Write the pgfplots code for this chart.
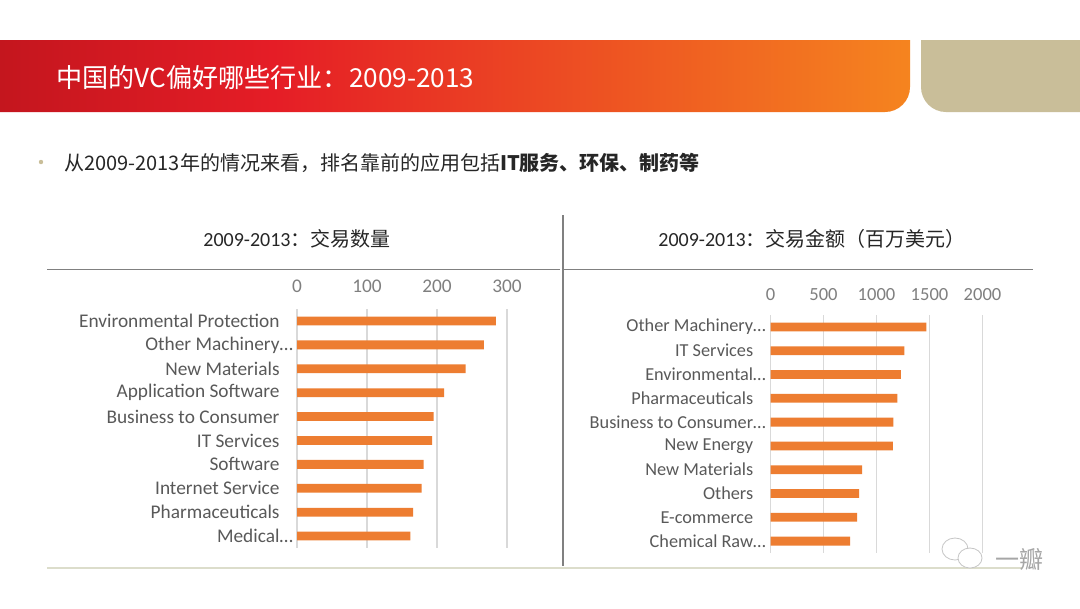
\documentclass[border=0pt]{standalone}
\usepackage{fontspec}
\setmainfont{Carlito}
\newfontfamily\cjk{Noto Sans CJK SC}
\usepackage{pgfplots}
\pgfplotsset{compat=1.18}
\definecolor{barorange}{HTML}{ED7D31}
\definecolor{gridgray}{HTML}{D9D9D9}
\definecolor{labgray}{HTML}{595959}
\definecolor{numgray}{HTML}{7F7F7F}
\definecolor{hdrA}{HTML}{C4161E}
\definecolor{hdrB}{HTML}{E51D26}
\definecolor{hdrC}{HTML}{F5841F}
\definecolor{tan}{HTML}{C9BE99}
\definecolor{lineg}{HTML}{808080}
\definecolor{botline}{HTML}{DCDDCB}
\pgfdeclarehorizontalshading{hdr}{100bp}{color(0bp)=(hdrA); color(25bp)=(hdrA); color(40bp)=(hdrB); color(75bp)=(hdrC); color(100bp)=(hdrC)}

\pgfplotstableread{
y v
0 284
1 267
2 241
3 210
4 195
5 193
6 181
7 178
8 166
9 162
}\countdata
\pgfplotstableread{
y v
0 1470
1 1262
2 1230
3 1196
4 1158
5 1155
6 865
7 836
8 818
9 752
}\amountdata

\begin{document}
\begin{tikzpicture}
\begin{scope}[x=0.75pt,y=-0.75pt]
\fill[white] (0,0) rectangle (1080,608);
% header band
\shade[shading=hdr] (0,40) -- (910,40) -- (910,87) arc[start angle=0,end angle=90,radius=25] -- (0,112) -- cycle;
\fill[tan] (1080,40) -- (921,40) -- (921,87) arc[start angle=180,end angle=90,radius=25] -- (1080,112) -- cycle;
\node[anchor=west, text=white, inner sep=0pt, font=\cjk\fontsize{19.6}{19.6}\selectfont] at (56,78) {中国的VC偏好哪些行业：2009-2013};
% bullet
\fill[tan] (41,162) circle[radius=2.2];
\node[anchor=west, inner sep=0pt, text=black!85, font=\cjk\fontsize{15}{15}\selectfont] at (64,163) {从2009-2013年的情况来看，排名靠前的应用包括{\bfseries IT服务、环保、制药等}};
% chart titles
\node[text=black!85, font=\fontsize{15}{15}\selectfont] at (297,239) {2009-2013{\cjk：交易数量}};
\node[text=black!85, font=\fontsize{15}{15}\selectfont] at (812,239) {2009-2013{\cjk：交易金额（百万美元）}};
% frame lines
\draw[lineg, line width=1.1pt] (47,269.5) -- (560,269.5);
\draw[lineg, line width=1.1pt] (562,269.5) -- (1033,269.5);
\draw[lineg, line width=1.1pt] (563,215) -- (563,566);
\draw[botline, line width=1.3pt] (47,568) -- (1022,568);
\end{scope}

\begin{axis}[at={(222.75pt,-231.75pt)}, anchor=north west, scale only axis,
  width=157.5pt, height=179.25pt,
  xmin=0, xmax=300, ymin=-0.5, ymax=9.5, y dir=reverse,
  xbar, bar width=6.6pt,
  axis line style={draw=none}, major tick style={draw=none},
  xmajorgrids, grid style={color=gridgray, line width=0.9pt},
  xtick={0,100,200,300}, xticklabels={0,100,200,300},
  xticklabel pos=upper, xticklabel shift=8.5pt,
  xticklabel style={text=numgray, font=\fontsize{14.5}{14.5}\selectfont},
  ytick={0,...,9},
  yticklabels={Environmental Protection, Other Machinery\rlap{…}, New Materials, Application Software, Business to Consumer, IT Services, Software, Internet Service, Pharmaceuticals, Medical\rlap{…}},
  yticklabel style={text=labgray, font=\fontsize{14.5}{14.5}\selectfont, xshift=-5.3pt},
  clip=false]
\addplot[fill=barorange, draw=none] table[x=v, y=y] {\countdata};
\end{axis}

\begin{axis}[at={(577.875pt,-236.25pt)}, anchor=north west, scale only axis,
  width=159pt, height=178.5pt,
  xmin=0, xmax=2000, ymin=-0.5, ymax=9.5, y dir=reverse,
  xbar, bar width=6.6pt,
  axis line style={draw=none}, major tick style={draw=none},
  xmajorgrids, grid style={color=gridgray, line width=0.9pt},
  xtick={0,500,1000,1500,2000}, xticklabels={0,500,1000,1500,2000},
  xticklabel pos=upper, xticklabel shift=7.5pt,
  xticklabel style={text=numgray, font=\fontsize{13.9}{13.9}\selectfont},
  ytick={0,...,9},
  yticklabels={Other Machinery\rlap{…}, IT Services, Environmental\rlap{…}, Pharmaceuticals, Business to Consumer\rlap{…}, New Energy, New Materials, Others, E-commerce, Chemical Raw\rlap{…}},
  yticklabel style={text=labgray, font=\fontsize{13.7}{13.7}\selectfont, xshift=-5.2pt},
  clip=false]
\addplot[fill=barorange, draw=none] table[x=v, y=y] {\amountdata};
\end{axis}

\begin{scope}[x=0.75pt,y=-0.75pt]
% logo
\filldraw[fill=white, draw=gray!45, line width=0.6pt] (955,549) ellipse[x radius=13, y radius=11];
\filldraw[fill=white, draw=gray!45, line width=0.6pt] (970,558) ellipse[x radius=12, y radius=10];
\node[text=gray!70, font=\cjk\fontsize{18}{18}\selectfont] at (1019,559) {一瓣};
\end{scope}
\end{tikzpicture}
\end{document}
